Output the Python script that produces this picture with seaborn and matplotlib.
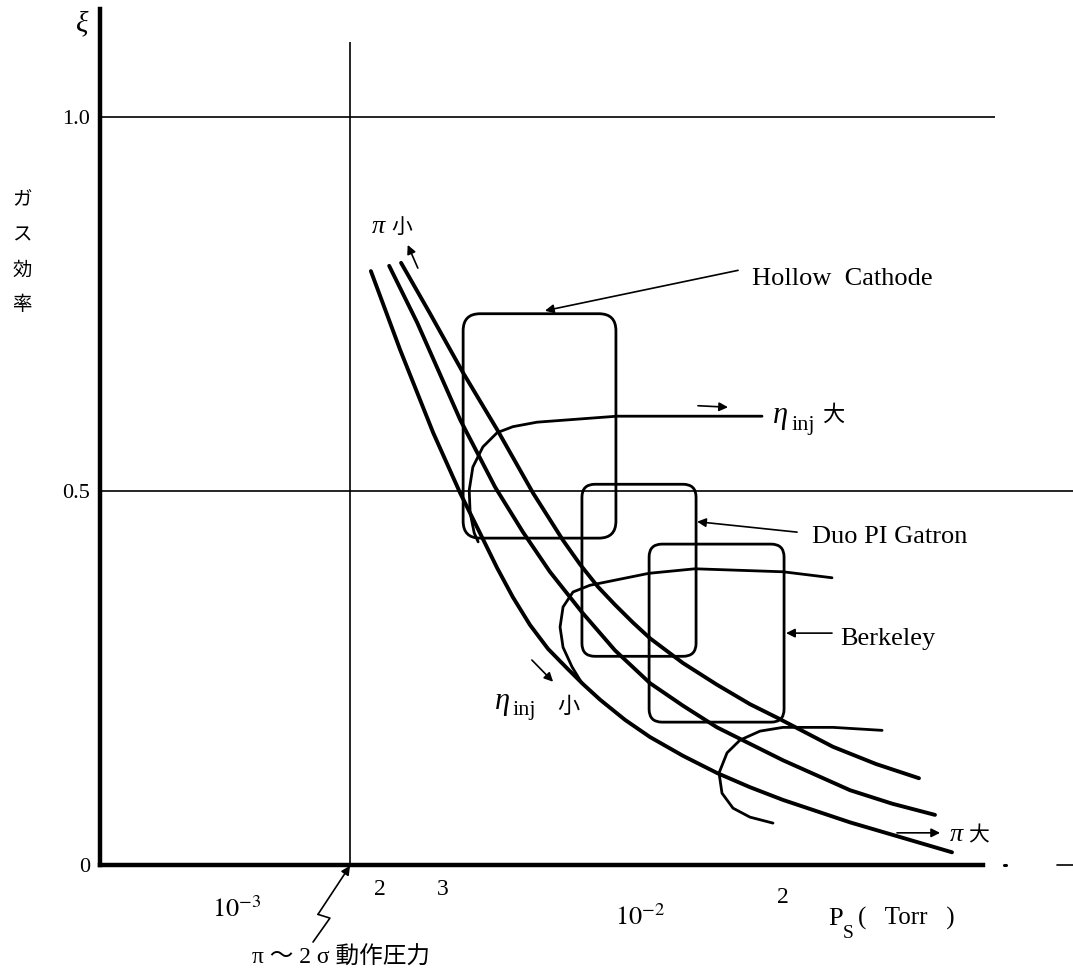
import matplotlib
matplotlib.use("Agg")
import numpy as np
import pandas as pd
import matplotlib.pyplot as plt
import seaborn as sns
from matplotlib.path import Path
from matplotlib.patches import PathPatch
from matplotlib.ticker import NullLocator

# ---------------- data (P_s in Torr, xi = gas efficiency) ----------------
curve_a_P = [2.19e-3, 2.585e-3, 3.12e-3, 3.64e-3, 4.07e-3, 4.49e-3, 4.91e-3, 5.41e-3,
             5.995e-3, 6.68e-3, 7.31e-3, 8.06e-3, 9.29e-3, 1.071e-2, 1.291e-2,
             1.567e-2, 1.890e-2, 2.28e-2, 3.338e-2, 5.96e-2]
curve_a_xi = [0.794, 0.689, 0.578, 0.497, 0.444, 0.397, 0.358, 0.321,
              0.289, 0.263, 0.242, 0.221, 0.194, 0.171, 0.146,
              0.123, 0.104, 0.087, 0.057, 0.017]
curve_b_P = [2.43e-3, 2.85e-3, 3.64e-3, 4.44e-3, 5.20e-3, 6.06e-3, 7.27e-3, 8.77e-3,
             1.071e-2, 1.291e-2, 1.567e-2, 1.890e-2, 2.28e-2, 3.338e-2, 4.24e-2, 5.41e-2]
curve_b_xi = [0.801, 0.725, 0.595, 0.505, 0.445, 0.392, 0.338, 0.287,
              0.243, 0.213, 0.184, 0.162, 0.140, 0.100, 0.082, 0.067]
curve_c_P = [2.60e-3, 3.06e-3, 3.70e-3, 4.49e-3, 5.51e-3, 6.53e-3, 7.19e-3, 7.96e-3,
             8.77e-3, 9.72e-3, 1.071e-2, 1.291e-2, 1.567e-2, 1.890e-2, 2.204e-2,
             3.03e-2, 3.87e-2, 4.94e-2]
curve_c_xi = [0.805, 0.738, 0.658, 0.582, 0.497, 0.434, 0.402, 0.372,
              0.348, 0.324, 0.303, 0.270, 0.241, 0.215, 0.197,
              0.158, 0.135, 0.116]

eta_hi_P = [2.024e-2, 8.87e-3, 5.63e-3, 4.91e-3, 4.49e-3, 4.14e-3, 3.91e-3, 3.83e-3,
            3.85e-3, 3.94e-3, 4.03e-3]
eta_hi_xi = [0.600, 0.600, 0.592, 0.586, 0.578, 0.559, 0.532, 0.501, 0.471, 0.444, 0.432]
eta_mid_P = [3.013e-2, 2.28e-2, 1.383e-2, 1.065e-2, 7.61e-3, 6.91e-3, 6.53e-3, 6.42e-3,
             6.53e-3, 6.87e-3, 7.27e-3]
eta_mid_xi = [0.384, 0.392, 0.396, 0.390, 0.374, 0.365, 0.345, 0.318, 0.291, 0.265, 0.243]
eta_lo_P = [4.005e-2, 3.03e-2, 2.28e-2, 2.001e-2, 1.786e-2, 1.659e-2, 1.585e-2, 1.612e-2,
            1.716e-2, 1.890e-2, 2.154e-2]
eta_lo_xi = [0.180, 0.184, 0.184, 0.179, 0.167, 0.150, 0.123, 0.096, 0.076, 0.064, 0.056]

box_names = ["Hollow Cathode", "Duo PI Gatron", "Berkeley"]
box_P_lo = [3.70e-3, 7.27e-3, 1.065e-2]
box_P_hi = [8.82e-3, 1.391e-2, 2.294e-2]
box_xi_lo = [0.437, 0.279, 0.191]
box_xi_hi = [0.737, 0.509, 0.429]

xi_levels = [0.5, 1.0]
P_operating = 1.95e-3
x_tick_P = [1e-3, 1e-2, 4.39e-2]
y_ticks = [0.0, 0.5, 1.0]
y_tick_labels = ["0", "0.5", "1.0"]

# ---------------- style ----------------
sns.set_style("white", rc={"axes.edgecolor": "black", "text.color": "black",
                           "xtick.color": "black", "ytick.color": "black"})
plt.rcParams["font.family"] = ["Liberation Serif", "Noto Sans CJK JP", "DejaVu Sans"]
plt.rcParams["mathtext.fontset"] = "stix"
CJK = ["Noto Sans CJK JP"]

W, H = 1073, 972
fig = plt.figure(figsize=(W / 100, H / 100), dpi=100)
fig.patch.set_facecolor("white")
ax = fig.add_axes([100 / W, 107 / H, 973 / W, 865 / H])
ax.set_xscale("log")
XMIN, XMAX = 10 ** -3.3284, 10 ** -0.926
YMAX = 865 / 748

def fix_limits():
    ax.set_xlim(XMIN, XMAX)
    ax.set_ylim(0, YMAX)

fix_limits()

# reference lines
ax.hlines(xi_levels[1], XMIN, 7.61e-2, color="black", lw=1.2)
ax.hlines(xi_levels[0], XMIN, XMAX, color="black", lw=1.2)
ax.vlines(P_operating, 0, 1.100, color="black", lw=1.2)

# curves
main_df = pd.concat([
    pd.DataFrame({"P": curve_a_P, "xi": curve_a_xi, "curve": "a"}),
    pd.DataFrame({"P": curve_b_P, "xi": curve_b_xi, "curve": "b"}),
    pd.DataFrame({"P": curve_c_P, "xi": curve_c_xi, "curve": "c"}),
], ignore_index=True)
eta_df = pd.concat([
    pd.DataFrame({"P": eta_hi_P, "xi": eta_hi_xi, "curve": "hi"}),
    pd.DataFrame({"P": eta_mid_P, "xi": eta_mid_xi, "curve": "mid"}),
    pd.DataFrame({"P": eta_lo_P, "xi": eta_lo_xi, "curve": "lo"}),
], ignore_index=True)

sns.lineplot(data=main_df, x="P", y="xi", units="curve", estimator=None, sort=False,
             color="black", linewidth=2.8, ax=ax, legend=False,
             solid_capstyle="round", solid_joinstyle="round")
sns.lineplot(data=eta_df, x="P", y="xi", units="curve", estimator=None, sort=False,
             color="black", linewidth=2.0, ax=ax, legend=False,
             solid_capstyle="round", solid_joinstyle="round")
fix_limits()
ax.set_xlabel("")
ax.set_ylabel("")

# rounded boxes
to_axes = ax.transData + ax.transAxes.inverted()

def rounded_box(p0, p1, y0, y1, r_px=14, lw=2.0):
    xa, ya = to_axes.transform((p0, y0))
    xb, yb = to_axes.transform((p1, y1))
    rx, ry = r_px / 973, r_px / 865
    verts = [(xa + rx, ya), (xb - rx, ya), (xb, ya), (xb, ya + ry), (xb, yb - ry),
             (xb, yb), (xb - rx, yb), (xa + rx, yb), (xa, yb), (xa, yb - ry),
             (xa, ya + ry), (xa, ya), (xa + rx, ya), (xa + rx, ya)]
    codes = [Path.MOVETO, Path.LINETO, Path.CURVE3, Path.CURVE3, Path.LINETO,
             Path.CURVE3, Path.CURVE3, Path.LINETO, Path.CURVE3, Path.CURVE3,
             Path.LINETO, Path.CURVE3, Path.CURVE3, Path.CLOSEPOLY]
    ax.add_patch(PathPatch(Path(verts, codes), transform=ax.transAxes, fill=False,
                           lw=lw, ec="black", joinstyle="round"))

for i in range(len(box_names)):
    rounded_box(box_P_lo[i], box_P_hi[i], box_xi_lo[i], box_xi_hi[i],
                r_px=17 if i == 0 else 13)

# axes frame
for s in ["top", "right"]:
    ax.spines[s].set_visible(False)
ax.spines["left"].set_linewidth(3.2)
ax.spines["left"].set_bounds(0, 1.144)
ax.spines["bottom"].set_linewidth(3.2)
ax.spines["bottom"].set_bounds(XMIN, 7.11e-2)
ax.plot([8.0e-2, 8.12e-2], [0, 0], color="black", lw=2.2, clip_on=False)
ax.plot([1.08e-1, XMAX], [0, 0], color="black", lw=1.2, clip_on=False)

ax.set_xticks(x_tick_P, labels=[""] * len(x_tick_P))
ax.xaxis.set_minor_locator(NullLocator())
ax.tick_params(axis="x", direction="in", length=9, width=1.4)
ax.set_yticks(y_ticks, labels=y_tick_labels)
ax.tick_params(axis="y", direction="in", length=7, width=2.5, pad=7, labelsize=16)

# x tick texts
tk = dict(ha="center", va="baseline", clip_on=False)
ax.text(1.023e-3, -0.0695, r"$10^{-3}$", fontsize=19, **tk)
ax.text(1.011e-2, -0.080, r"$10^{-2}$", fontsize=19, **tk)
ax.text(2.31e-3, -0.040, "2", fontsize=17, **tk)
ax.text(3.30e-3, -0.040, "3", fontsize=17, **tk)
ax.text(2.28e-2, -0.051, "2", fontsize=17, **tk)

# axis titles
ax.text(2.945e-2, -0.080, "P", fontsize=19, ha="left", va="baseline", clip_on=False)
ax.text(3.208e-2, -0.097, "S", fontsize=14, ha="left", va="baseline", clip_on=False)
ax.text(3.493e-2, -0.080, "(   Torr   )", fontsize=18, ha="left", va="baseline", clip_on=False)
fig.text(82 / W, 1 - 24 / H, "ξ", fontsize=21, style="italic", ha="center", va="center")
for k, ch in enumerate("ガス効率"):
    fig.text(22 / W, 1 - (200 + 35 * k) / H, ch, fontsize=14, ha="center", va="center",
             family=CJK)

# annotations
arr = dict(arrowstyle="-|>", color="black", lw=1.2, mutation_scale=13, shrinkA=0, shrinkB=0)
ax.annotate("", xy=(5.89e-3, 0.741), xytext=(1.766e-2, 0.795), arrowprops=arr)
ax.text(1.912e-2, 0.775, "Hollow  Cathode", fontsize=19, ha="left", va="baseline")
ax.annotate("", xy=(1.399e-2, 0.459), xytext=(2.470e-2, 0.445), arrowprops=arr)
ax.text(2.69e-2, 0.430, "Duo PI Gatron", fontsize=19, ha="left", va="baseline")
ax.annotate("", xy=(2.320e-2, 0.310), xytext=(3.013e-2, 0.310), arrowprops=arr)
ax.text(3.154e-2, 0.294, "Berkeley", fontsize=19, ha="left", va="baseline")

ax.annotate("", xy=(1.668e-2, 0.612), xytext=(1.406e-2, 0.614), arrowprops=arr)
ax.text(2.154e-2, 0.601, "η", fontsize=22, style="italic", ha="left", va="center")
ax.text(2.40e-2, 0.588, "inj", fontsize=16, ha="left", va="center")
ax.text(2.847e-2, 0.602, "大", fontsize=16, ha="left", va="center", family=CJK)

ax.annotate("", xy=(6.17e-3, 0.245), xytext=(5.47e-3, 0.274), arrowprops=arr)
ax.text(4.44e-3, 0.218, "η", fontsize=22, style="italic", ha="left", va="center")
ax.text(4.89e-3, 0.207, "inj", fontsize=16, ha="left", va="center")
ax.text(6.31e-3, 0.212, "小", fontsize=16, ha="left", va="center", family=CJK)

ax.annotate("", xy=(2.70e-3, 0.829), xytext=(2.86e-3, 0.798), arrowprops=arr)
ax.text(2.20e-3, 0.853, "π", fontsize=19, style="italic", ha="left", va="center")
ax.text(2.46e-3, 0.853, "小", fontsize=15, ha="left", va="center", family=CJK)
ax.annotate("", xy=(5.57e-2, 0.043), xytext=(4.36e-2, 0.043), arrowprops=arr)
ax.text(5.89e-2, 0.040, "π", fontsize=19, style="italic", ha="left", va="center")
ax.text(6.55e-2, 0.040, "大", fontsize=15, ha="left", va="center", family=CJK)

# operating pressure zig-zag arrow
ax.plot([1.576e-3, 1.735e-3, 1.621e-3], [-0.103, -0.071, -0.066], color="black", lw=1.2,
        clip_on=False)
ax.annotate("", xy=(1.945e-3, -0.001), xytext=(1.621e-3, -0.066),
            arrowprops=arr, annotation_clip=False)
ax.text(1.114e-3, -0.124, "π ～ 2 σ 動作圧力", fontsize=17, ha="left", va="center",
        clip_on=False)

fig.savefig("out.png", dpi=100, facecolor="white")
